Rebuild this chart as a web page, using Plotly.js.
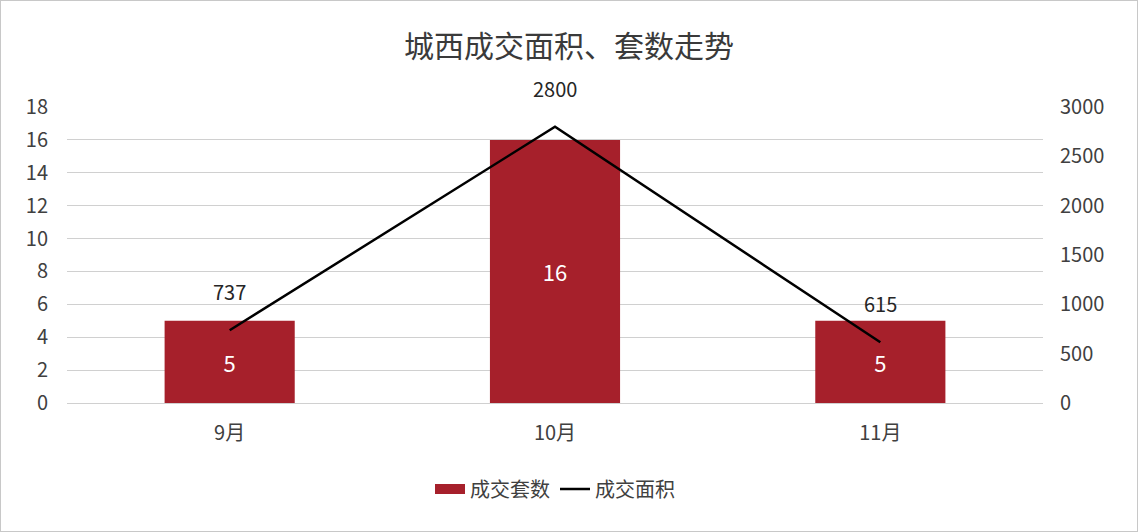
<!DOCTYPE html>
<html>
<head>
<meta charset="utf-8">
<script src="https://cdn.plot.ly/plotly-3.0.1.min.js"></script>
<style>
  body { margin: 0; background: #fff; }
  #chart { width: 1136px; height: 530px; border: 1px solid #c8c8c8; }
</style>
</head>
<body>
<div id="chart"></div>
<script>
// 城西成交面积、套数走势
var months = ['9月', '10月', '11月'];
var units = [5, 16, 5];          // 成交套数 (left axis)
var area = [737, 2800, 615];     // 成交面积 (right axis)

var font = '"Noto Sans CJK SC", "Noto Sans", sans-serif';
var barColor = '#A6202B';

// bars: units sold
var bars = {
  x: months,
  y: units,
  name: '成交套数',
  type: 'bar',
  width: 0.4,
  marker: { color: barColor },
  text: units.map(String),
  textposition: 'inside',
  insidetextanchor: 'middle',
  textfont: { color: '#ffffff', size: 22, family: font },
  showlegend: false,
  hoverinfo: 'x+y'
};

// legend entry for the bars, drawn as a wide block like the original
var barKey = {
  x: [null],
  y: [null],
  name: '成交套数',
  type: 'scatter',
  mode: 'lines',
  line: { color: barColor, width: 10 },
  hoverinfo: 'skip'
};

// line: floor area
var line = {
  x: months,
  y: area,
  name: '成交面积',
  type: 'scatter',
  mode: 'lines',
  yaxis: 'y2',
  line: { color: '#000000', width: 2.5 }
};

// labels above each line point
var annotationContent = [];
for (var i = 0; i < months.length; i++) {
  annotationContent.push({
    x: months[i],
    y: area[i],
    yref: 'y2',
    text: String(area[i]),
    showarrow: false,
    yanchor: 'bottom',
    yshift: 22,
    font: { size: 20, color: '#262626', family: font }
  });
}

var layout = {
  width: 1136,
  height: 530,
  margin: { l: 66, r: 94, t: 106, b: 128 },
  paper_bgcolor: '#ffffff',
  plot_bgcolor: '#ffffff',
  font: { family: font, color: '#595959', size: 20 },
  title: {
    text: '城西成交面积、套数走势',
    x: 0.5,
    xanchor: 'center',
    y: 0.915,
    yanchor: 'middle',
    font: { size: 30, color: '#3a3a3a', family: font }
  },
  xaxis: {
    showgrid: false,
    showline: true,
    linecolor: '#d0d0d0',
    linewidth: 1,
    ticks: '',
    ticklabelstandoff: 12,
    tickfont: { size: 20, color: '#404040' }
  },
  yaxis: {
    range: [0, 18],
    dtick: 2,
    showgrid: true,
    gridcolor: '#d0d0d0',
    zeroline: false,
    showline: false,
    ticks: '',
    ticklabelstandoff: 18,
    tickfont: { size: 20, color: '#404040' }
  },
  yaxis2: {
    range: [0, 3000],
    dtick: 500,
    overlaying: 'y',
    side: 'right',
    showgrid: false,
    zeroline: false,
    showline: false,
    ticks: '',
    ticklabelstandoff: 16,
    tickfont: { size: 20, color: '#404040' }
  },
  showlegend: true,
  legend: {
    orientation: 'h',
    x: 0.5,
    xanchor: 'center',
    y: -0.225,
    yanchor: 'top',
    font: { size: 20, color: '#404040' }
  },
  annotations: annotationContent
};

Plotly.newPlot('chart', [bars, barKey, line], layout, { displayModeBar: false, staticPlot: true });
</script>
</body>
</html>
